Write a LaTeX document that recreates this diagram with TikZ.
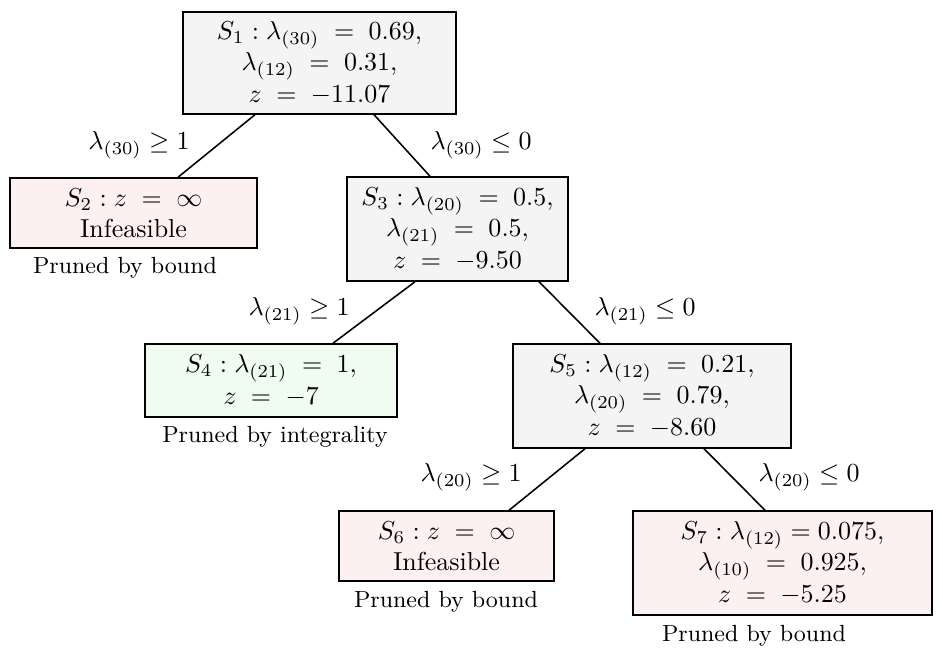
\documentclass[tikz,border=0pt]{standalone}
\usetikzlibrary{calc}
\definecolor{boxgray}{HTML}{F4F4F4}
\definecolor{boxred}{HTML}{FDF0F0}
\definecolor{boxgreen}{HTML}{F0FCF0}
\newcommand{\eqsp}{\;=\;}
\begin{document}
\begin{tikzpicture}[x=0.385pt,y=-0.385pt,
  bnode/.style={draw, line width=0.6pt, align=center, inner sep=0pt, anchor=center},
  graybox/.style={bnode, fill=boxgray},
  redbox/.style={bnode, fill=boxred},
  greenbox/.style={bnode, fill=boxgreen},
  branch/.style={line width=0.6pt},
  lbl/.style={inner sep=0pt, anchor=center},
  prune/.style={inner sep=0pt, anchor=center, font=\small}]
\useasboundingbox (0,0) rectangle (943,648);
\node[graybox, minimum width=105pt, minimum height=39.2pt] (S1) at (319.5,63)
  {$S_1 : \lambda_{(30)} \eqsp 0.69,$\\ $\lambda_{(12)} \eqsp 0.31,$\\ $z \eqsp -11.07$};
\node[redbox, minimum width=95pt, minimum height=26.9pt] (S2) at (133.5,213)
  {$S_2 : z \eqsp \infty$\\ Infeasible};
\node[graybox, minimum width=85pt, minimum height=40pt] (S3) at (457.5,229)
  {$S_3 : \lambda_{(20)} \eqsp 0.5,$\\ $\lambda_{(21)} \eqsp 0.5,$\\ $z \eqsp -9.50$};
\node[greenbox, minimum width=96.9pt, minimum height=28.1pt] (S4) at (271,380.5)
  {$S_4 : \lambda_{(21)} \eqsp 1,$\\ $z \eqsp -7$};
\node[graybox, minimum width=106.9pt, minimum height=40pt] (S5) at (652,396)
  {$S_5 : \lambda_{(12)} \eqsp 0.21,$\\ $\lambda_{(20)} \eqsp 0.79,$\\ $z \eqsp -8.60$};
\node[redbox, minimum width=82.7pt, minimum height=26.9pt] (S6) at (446.5,546)
  {$S_6 : z \eqsp \infty$\\ Infeasible};
\node[redbox, minimum width=115pt, minimum height=40pt] (S7) at (782.5,563)
  {$S_7 : \lambda_{(12)} = 0.075,$\\ $\lambda_{(10)} \eqsp 0.925,$\\ $z \eqsp -5.25$};

\node[prune] (P2) at (125,268) {Pruned by bound};
\node[prune] (P4) at (275,437) {Pruned by integrality};
\node[prune] (P6) at (446,602) {Pruned by bound};
\node[prune] (P7) at (754,636) {Pruned by bound};

\draw[branch] ($(S1.south)+(-64.5,0)$) -- ($(S2.north)+(44.5,0)$);
\draw[branch] ($(S1.south)+(54.5,0)$) -- ($(S3.north)+(-27.5,0)$);
\draw[branch] ($(S3.south)+(-42.5,0)$) -- ($(S4.north)+(62,0)$);
\draw[branch] ($(S3.south)+(81.5,0)$) -- ($(S5.north)+(-52,0)$);
\draw[branch] ($(S5.south)+(-67,0)$) -- ($(S6.north)+(62.5,0)$);
\draw[branch] ($(S5.south)+(52,0)$) -- ($(S7.north)+(-17.5,0)$);

\node[lbl] (L12) at (139,145) {$\lambda_{(30)} \geq 1$};
\node[lbl] (L13) at (481,145) {$\lambda_{(30)} \leq 0$};
\node[lbl] (L34) at (299,311) {$\lambda_{(21)} \geq 1$};
\node[lbl] (L35) at (645,311) {$\lambda_{(21)} \leq 0$};
\node[lbl] (L56) at (471,477) {$\lambda_{(20)} \geq 1$};
\node[lbl] (L57) at (809,477) {$\lambda_{(20)} \leq 0$};
\end{tikzpicture}
\end{document}
